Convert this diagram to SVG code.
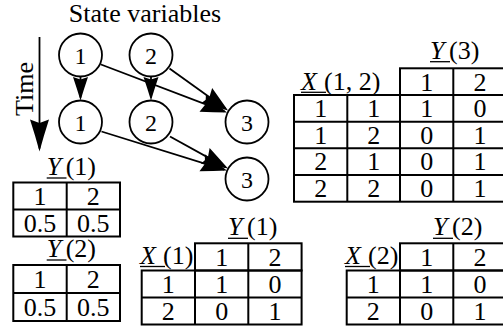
<svg xmlns="http://www.w3.org/2000/svg" width="503" height="331" viewBox="0 0 503 331">
<style>
.nd{fill:#fff;stroke:#000;stroke-width:1.8}
.ed{stroke:#000;stroke-width:1.8;fill:none}
.tb{fill:none;stroke:#000;stroke-width:2}
.ul{stroke:#000;stroke-width:1.3}
</style>
<defs>
<marker id="ah" markerUnits="userSpaceOnUse" viewBox="-28 -11 32 22" refX="-3" refY="0" markerWidth="32" markerHeight="22" orient="auto">
<path d="M0,0 Q-12,-3.6 -23.5,-7.5 L-21,0 L-23.5,7.5 Q-12,3.6 0,0 Z" fill="#000"/>
</marker>
<marker id="ahD" markerUnits="userSpaceOnUse" viewBox="-30 -12 34 24" refX="-3" refY="0" markerWidth="34" markerHeight="24" orient="auto">
<path d="M0,0 Q-13,-4.5 -26,-9 L-23,0 L-26,9 Q-13,4.5 0,0 Z" fill="#000"/>
</marker>
<marker id="ahT" markerUnits="userSpaceOnUse" viewBox="-36 -12 40 24" refX="-3" refY="0" markerWidth="40" markerHeight="24" orient="auto">
<path d="M0,0 Q-15,-4 -32,-9.5 L-28.5,0 L-32,9.5 Q-15,4 0,0 Z" fill="#000"/>
</marker>
</defs>

<text x="145" y="22" font-size="26" text-anchor="middle" font-family="Liberation Serif, serif">State variables</text>
<g id="time">
<line class="ed" x1="39.5" y1="37" x2="39.5" y2="148.5" marker-end="url(#ahT)"/>
<text transform="translate(33,89) rotate(-90)" font-size="26" text-anchor="middle" font-family="Liberation Serif, serif">Time</text>
</g>

<g id="connectors">
<line class="ed" x1="80.5" y1="76.5" x2="80.5" y2="97.5" marker-end="url(#ah)"/>
<line class="ed" x1="151" y1="76.5" x2="151" y2="97.5" marker-end="url(#ah)"/>
<line class="ed" x1="101" y1="64.5" x2="224.2" y2="111.4" marker-end="url(#ahD)"/>
<line class="ed" x1="169.5" y1="68.5" x2="225.6" y2="108.8" marker-end="url(#ahD)"/>
<line class="ed" x1="101.5" y1="131.5" x2="224.1" y2="169.6" marker-end="url(#ahD)"/>
<line class="ed" x1="170" y1="136.5" x2="225.4" y2="167.1" marker-end="url(#ahD)"/>
</g>

<g id="nodes" font-family="Liberation Serif, serif" font-size="24" text-anchor="middle">
<g id="n1a"><circle class="nd" cx="80.5" cy="55" r="21.5"/><text x="80.5" y="63.5">1</text></g>
<g id="n2a"><circle class="nd" cx="151" cy="55" r="21.5"/><text x="151" y="63.5">2</text></g>
<g id="n1b"><circle class="nd" cx="80.5" cy="122" r="21.5"/><text x="80.5" y="130.5">1</text></g>
<g id="n2b"><circle class="nd" cx="151" cy="122" r="21.5"/><text x="151" y="130.5">2</text></g>
<g id="n3a"><circle class="nd" cx="247" cy="122" r="21.5"/><text x="247" y="130.5">3</text></g>
<g id="n3b"><circle class="nd" cx="247" cy="179" r="21.5"/><text x="247" y="187.5">3</text></g>
</g>

<g id="tY1" font-family="Liberation Serif, serif" font-size="26">
<text x="46.7" y="175"><tspan font-style="italic">Y</tspan><tspan x="65.7">(1)</tspan></text>
<line class="ul" x1="46.7" y1="178" x2="66.5" y2="178"/>
<rect class="tb" x="13.3" y="182.5" width="106.7" height="54"/>
<line class="tb" x1="13.3" y1="209.5" x2="120" y2="209.5"/>
<line class="tb" x1="66.7" y1="182.5" x2="66.7" y2="236.5"/>
<g text-anchor="middle">
<text x="40" y="204.5">1</text><text x="93.3" y="204.5">2</text>
<text x="40" y="231.5">0.5</text><text x="93.3" y="231.5">0.5</text>
</g>
</g>

<g id="tY2" font-family="Liberation Serif, serif" font-size="26">
<text x="46.7" y="257"><tspan font-style="italic">Y</tspan><tspan x="65.7">(2)</tspan></text>
<line class="ul" x1="46.7" y1="260" x2="66.5" y2="260"/>
<rect class="tb" x="13.3" y="265" width="106.7" height="56"/>
<line class="tb" x1="13.3" y1="293" x2="120" y2="293"/>
<line class="tb" x1="66.7" y1="265" x2="66.7" y2="321"/>
<g text-anchor="middle">
<text x="40" y="288">1</text><text x="93.3" y="288">2</text>
<text x="40" y="316">0.5</text><text x="93.3" y="316">0.5</text>
</g>
</g>

<g id="tX1" font-family="Liberation Serif, serif" font-size="26">
<text x="228" y="235.3"><tspan font-style="italic">Y</tspan><tspan x="247">(1)</tspan></text>
<line class="ul" x1="228" y1="238.3" x2="248" y2="238.3"/>
<text x="140" y="263.5"><tspan font-style="italic">X</tspan><tspan x="163">(1)</tspan></text>
<line class="ul" x1="140" y1="266.5" x2="165" y2="266.5"/>
<rect class="tb" x="195" y="243.3" width="106.6" height="27.2"/>
<line class="tb" x1="248.3" y1="243.3" x2="248.3" y2="270.5"/>
<rect class="tb" x="141.7" y="270.5" width="159.9" height="54"/>
<line class="tb" x1="141.7" y1="297.5" x2="301.6" y2="297.5"/>
<line class="tb" x1="195" y1="270.5" x2="195" y2="324.5"/>
<line class="tb" x1="248.3" y1="270.5" x2="248.3" y2="324.5"/>
<g text-anchor="middle">
<text x="221.7" y="265.5">1</text><text x="275" y="265.5">2</text>
<text x="168.3" y="292.5">1</text><text x="221.7" y="292.5">1</text><text x="275" y="292.5">0</text>
<text x="168.3" y="319.5">2</text><text x="221.7" y="319.5">0</text><text x="275" y="319.5">1</text>
</g>
</g>

<g id="tX2" font-family="Liberation Serif, serif" font-size="26">
<text x="433" y="235.3"><tspan font-style="italic">Y</tspan><tspan x="452">(2)</tspan></text>
<line class="ul" x1="433" y1="238.3" x2="453" y2="238.3"/>
<text x="345" y="263.5"><tspan font-style="italic">X</tspan><tspan x="368">(2)</tspan></text>
<line class="ul" x1="345" y1="266.5" x2="370" y2="266.5"/>
<rect class="tb" x="400" y="243.3" width="106.6" height="27.2"/>
<line class="tb" x1="453.3" y1="243.3" x2="453.3" y2="270.5"/>
<rect class="tb" x="346.7" y="270.5" width="159.9" height="54"/>
<line class="tb" x1="346.7" y1="297.5" x2="506.6" y2="297.5"/>
<line class="tb" x1="400" y1="270.5" x2="400" y2="324.5"/>
<line class="tb" x1="453.3" y1="270.5" x2="453.3" y2="324.5"/>
<g text-anchor="middle">
<text x="426.7" y="265.5">1</text><text x="480" y="265.5">2</text>
<text x="373.3" y="292.5">1</text><text x="426.7" y="292.5">1</text><text x="480" y="292.5">0</text>
<text x="373.3" y="319.5">2</text><text x="426.7" y="319.5">0</text><text x="480" y="319.5">1</text>
</g>
</g>

<g id="tX12" font-family="Liberation Serif, serif" font-size="26">
<text x="430" y="58.7"><tspan font-style="italic">Y</tspan><tspan x="449">(3)</tspan></text>
<line class="ul" x1="430" y1="61.7" x2="450" y2="61.7"/>
<text x="301" y="89.5"><tspan font-style="italic">X</tspan><tspan x="324">(1, 2)</tspan></text>
<line class="ul" x1="301" y1="92.3" x2="326" y2="92.3"/>
<rect class="tb" x="400" y="68.3" width="106.6" height="26.7"/>
<line class="tb" x1="453.3" y1="68.3" x2="453.3" y2="95"/>
<rect class="tb" x="294" y="95" width="212.6" height="106.7"/>
<line class="tb" x1="294" y1="121.7" x2="506.6" y2="121.7"/>
<line class="tb" x1="294" y1="148.3" x2="506.6" y2="148.3"/>
<line class="tb" x1="294" y1="175" x2="506.6" y2="175"/>
<line class="tb" x1="347.3" y1="95" x2="347.3" y2="201.7"/>
<line class="tb" x1="400" y1="95" x2="400" y2="201.7"/>
<line class="tb" x1="453.3" y1="95" x2="453.3" y2="201.7"/>
<g text-anchor="middle">
<text x="426.7" y="90.5">1</text><text x="480" y="90.5">2</text>
<text x="320.7" y="117">1</text><text x="373.7" y="117">1</text><text x="426.7" y="117">1</text><text x="480" y="117">0</text>
<text x="320.7" y="143.7">1</text><text x="373.7" y="143.7">2</text><text x="426.7" y="143.7">0</text><text x="480" y="143.7">1</text>
<text x="320.7" y="170.3">2</text><text x="373.7" y="170.3">1</text><text x="426.7" y="170.3">0</text><text x="480" y="170.3">1</text>
<text x="320.7" y="197">2</text><text x="373.7" y="197">2</text><text x="426.7" y="197">0</text><text x="480" y="197">1</text>
</g>
</g>
</svg>
